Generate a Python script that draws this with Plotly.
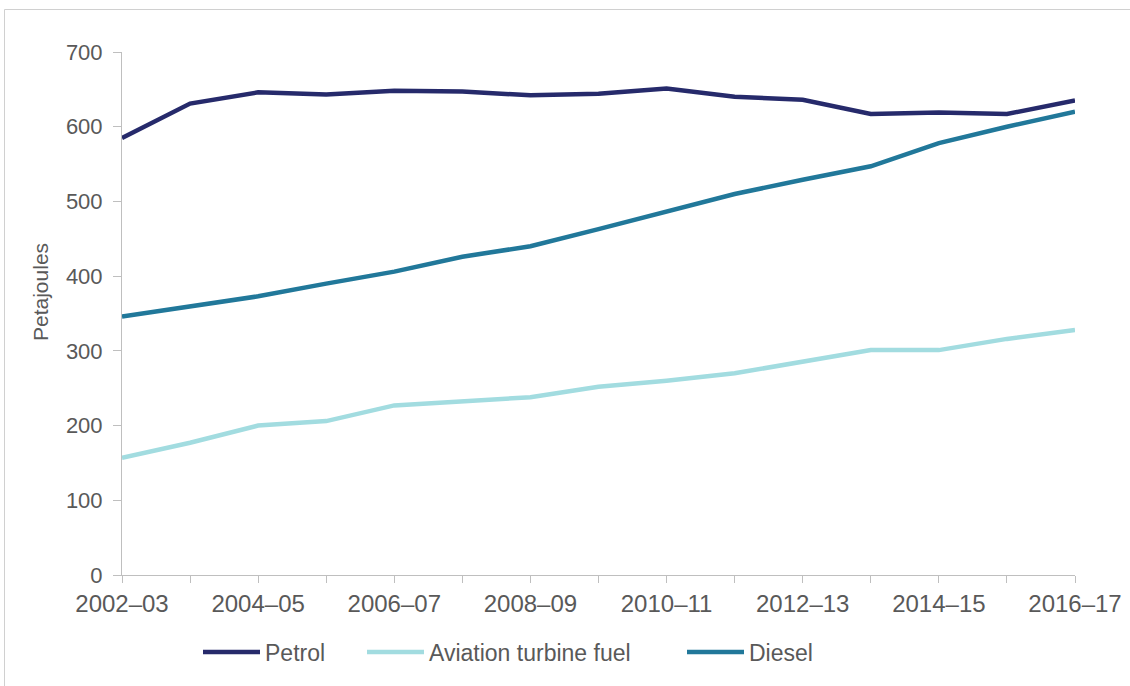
import plotly.graph_objects as go

years = ["2002–03", "2003–04", "2004–05", "2005–06", "2006–07", "2007–08", "2008–09",
         "2009–10", "2010–11", "2011–12", "2012–13", "2013–14", "2014–15", "2015–16", "2016–17"]
petrol = [585, 631, 646, 643, 648, 647, 642, 644, 651, 640, 636, 617, 619, 617, 635]
aviation = [157, 177, 200, 206, 227, 233, 238, 252, 260, 270, 286, 301, 301, 316, 328]
diesel = [346, 360, 373, 390, 406, 426, 440, 463, 487, 510, 529, 547, 578, 600, 620]
tick_text = [y if i % 2 == 0 else "" for i, y in enumerate(years)]

W, H = 1130, 686
L, R, T, B = 122, 1075, 52, 575

def px(xp):
    return (xp - L) / (R - L)

def py(yp):
    return (B - yp) / (B - T)

FONT = "Liberation Sans, Arial, sans-serif"
GREY = "#595959"
AXIS = "#bfbfbf"

fig = go.Figure()
series = [("Petrol", petrol, "#262a6b", "legend", 198),
          ("Aviation turbine fuel", aviation, "#a2dce0", "legend2", 362),
          ("Diesel", diesel, "#21789a", "legend3", 682)]
for name, vals, col, leg, _ in series:
    fig.add_trace(go.Scatter(x=years, y=vals, mode="lines", name=name, showlegend=True,
                             line=dict(color=col, width=4.5), legend=leg))

legend_common = dict(orientation="h", yanchor="middle", y=py(652), xanchor="left",
                     font=dict(family=FONT, size=23, color=GREY),
                     bgcolor="rgba(0,0,0,0)", itemwidth=57)
fig.update_layout(
    width=W, height=H,
    showlegend=True,
    margin=dict(l=L, r=W - R, t=T, b=H - B, autoexpand=False),
    paper_bgcolor="white", plot_bgcolor="white",
    font=dict(family=FONT, color=GREY),
    legend=dict(x=px(series[0][4]), **legend_common),
    legend2=dict(x=px(series[1][4]), **legend_common),
    legend3=dict(x=px(series[2][4]), **legend_common),
    xaxis=dict(type="category", range=[0, len(years) - 1], tickmode="array",
               tickvals=years, ticktext=tick_text, ticks="outside", ticklen=7,
               tickcolor=AXIS, showline=True, linecolor=AXIS, linewidth=1,
               showgrid=False, zeroline=False, automargin=False,
               tickfont=dict(family=FONT, size=24, color=GREY)),
    yaxis=dict(range=[0, 700], dtick=100, ticks="outside", ticklen=8, tickcolor=AXIS,
               showline=True, linecolor=AXIS, linewidth=1, showgrid=False, zeroline=False,
               automargin=False, ticklabelstandoff=6,
               tickfont=dict(family=FONT, size=22, color=GREY)),
    annotations=[dict(text="Petajoules", xref="paper", yref="paper", x=px(40), y=py(292),
                      textangle=-90, showarrow=False, xanchor="center", yanchor="middle",
                      font=dict(family=FONT, size=21, color=GREY))],
    shapes=[dict(type="line", xref="paper", yref="paper", x0=px(4.5), x1=px(4.5),
                 y0=py(H + 5), y1=py(9.5), line=dict(color="#d0d0d0", width=1)),
            dict(type="line", xref="paper", yref="paper", x0=px(4.5), x1=px(W + 5),
                 y0=py(9.5), y1=py(9.5), line=dict(color="#d0d0d0", width=1))],
)

fig.write_html("out.html")
